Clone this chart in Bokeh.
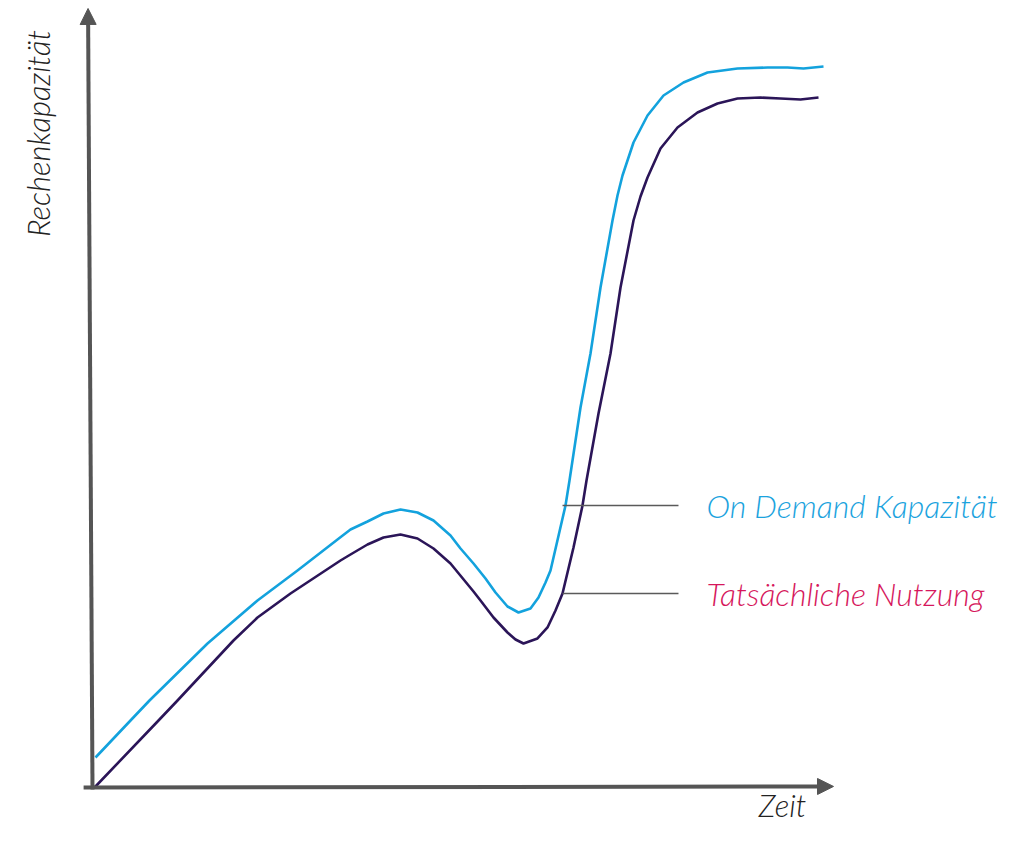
from bokeh.plotting import figure
from bokeh.models import Range1d, Arrow, NormalHead, ColumnDataSource
from bokeh.core.properties import value
from bokeh.embed import file_html
from bokeh.resources import INLINE

# Time (0-100) and capacity (0-100) values
demand_x = [0.405, 5.128, 7.692, 15.520, 22.267, 27.665, 33.063, 34.818, 37.112, 39.271,
            41.565, 43.860, 46.019, 48.313, 49.663, 51.417, 53.036, 54.386, 56.005, 57.490,
            59.109, 60.189, 61.134, 61.808, 63.833, 64.372, 65.857, 67.206, 68.556, 70.175,
            70.850, 71.525, 73.009, 74.899, 77.058, 79.757, 82.996, 87.045, 91.093, 93.792,
            95.951, 98.650]
demand_y = [4.286, 9.571, 12.429, 20.571, 26.714, 31.0, 35.429, 36.857, 38.0, 39.143,
            39.714, 39.286, 38.143, 36.0, 34.143, 32.0, 29.857, 27.857, 25.857, 25.0,
            25.571, 27.143, 29.286, 31.0, 40.286, 43.857, 54.286, 62.0, 71.429, 81.0,
            84.571, 87.429, 92.143, 96.0, 98.857, 100.714, 102.143, 102.714, 102.857, 102.857,
            102.714, 103.0]

usage_x = [0.270, 8.907, 11.471, 19.028, 22.267, 26.721, 33.468, 34.818, 37.112, 39.271,
           41.565, 43.860, 46.019, 48.313, 51.417, 52.362, 54.116, 56.005, 57.085, 58.165,
           60.054, 61.404, 62.483, 63.428, 64.912, 66.127, 66.667, 68.286, 69.906, 71.255,
           73.009, 73.954, 74.899, 76.653, 78.947, 81.646, 84.345, 87.045, 90.148, 92.848,
           95.547, 97.976]
usage_y = [0.0, 9.571, 12.429, 21.0, 24.286, 27.714, 32.429, 33.286, 34.714, 35.714,
           36.143, 35.571, 34.143, 32.0, 28.0, 26.714, 24.286, 22.143, 21.143, 20.571,
           21.286, 22.857, 25.286, 27.714, 34.286, 40.286, 43.857, 53.429, 62.0, 71.429,
           81.0, 84.429, 87.143, 91.286, 94.286, 96.429, 97.714, 98.429, 98.571, 98.429,
           98.286, 98.571]

labels = ["On Demand Kapazität", "Tatsächliche Nutzung"]
label_colors = ["#1ba3de", "#d6175c"]
label_levels = [40.29, 27.71]
leader_start = [63.43, 63.43]
leader_end = [79.08, 79.08]

x_title = "Zeit"
y_title = "Rechenkapazität"

W, H = 1009, 825
p = figure(width=W, height=H, output_backend="svg", toolbar_location=None,
           x_range=Range1d(-12.416, 123.751), y_range=Range1d(-5.429, 112.429),
           min_border=0, outline_line_color=None)
p.axis.visible = False
p.grid.visible = False
p.background_fill_color = "white"

axis_color = "#555555"
p.add_layout(Arrow(x_start=-1.2, y_start=0, x_end=100.0, y_end=0.15,
                   line_color=axis_color, line_width=4,
                   end=NormalHead(size=16, fill_color=axis_color, line_color=axis_color)))
p.add_layout(Arrow(x_start=0, y_start=-0.3, x_end=-0.6, y_end=111.29,
                   line_color=axis_color, line_width=4,
                   end=NormalHead(size=16, fill_color=axis_color, line_color=axis_color)))

p.line(demand_x, demand_y, line_color="#13a2dd", line_width=2.6, line_join="round")
p.line(usage_x, usage_y, line_color="#2b1558", line_width=2.6, line_join="round")

src = ColumnDataSource(dict(x0=leader_start, x1=leader_end, y=label_levels))
p.segment(x0="x0", y0="y", x1="x1", y1="y", source=src, line_color="#5a5a5a", line_width=1.6)

font = value("Lato Light")
p.text(x=[82.86, 82.86], y=label_levels, text=labels, text_color=label_colors,
       text_font=font, text_font_style="italic", text_font_size="32px",
       text_baseline="middle", text_align="left")

p.text(x=[93.12], y=[-2.5], text=[x_title], text_color="#222222",
       text_font=font, text_font_style="italic", text_font_size="31px",
       text_baseline="middle", text_align="center")
p.text(x=[-7.3], y=[93.43], text=[y_title], angle=1.5708, text_color="#222222",
       text_font=font, text_font_style="italic", text_font_size="31px",
       text_baseline="middle", text_align="center")

open("out.html", "w").write(file_html(p, INLINE))
